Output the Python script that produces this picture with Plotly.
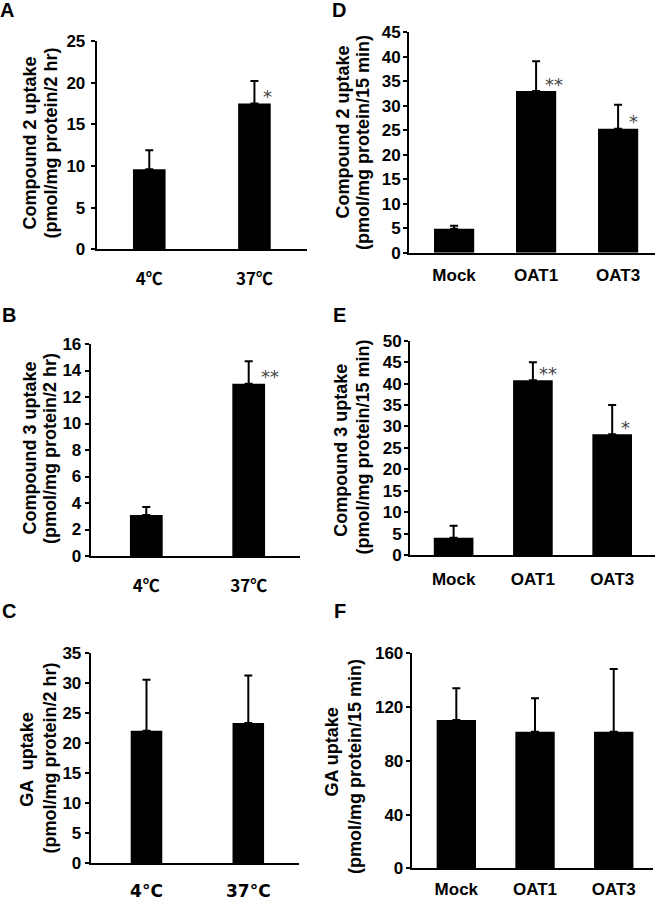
import plotly.graph_objects as go

# uptake data (mean, upper SD)
temp_labels = ["4℃", "37℃"]
temp_labels_ga = ["4°C", "37°C"]
cell_labels = ["Mock", "OAT1", "OAT3"]

cmpd2_temp = [9.6, 17.5]
cmpd2_temp_sd = [2.3, 2.7]
cmpd3_temp = [3.1, 13.0]
cmpd3_temp_sd = [0.6, 1.7]
ga_temp = [22.1, 23.4]
ga_temp_sd = [8.5, 7.9]

cmpd2_oat = [4.9, 33.0, 25.3]
cmpd2_oat_sd = [0.6, 6.1, 4.9]
cmpd3_oat = [4.0, 40.8, 28.2]
cmpd3_oat_sd = [2.8, 4.2, 6.8]
ga_oat = [110.3, 101.6, 101.6]
ga_oat_sd = [23.6, 24.9, 46.7]

stars_A = ["", "*"]
stars_B = ["", "**"]
stars_D = ["", "**", "*"]
stars_E = ["", "**", "*"]

W, H = 659, 900


def px_x(p):
    return p / W


def px_y(p):
    return 1 - p / H


# one dict per panel, positions in pixels of the 659x900 picture
panels = [
    dict(letter="A", cats=temp_labels, vals=cmpd2_temp, sd=cmpd2_temp_sd, stars=stars_A,
         xd=(96.7, 307), yd=(41, 249.3), ymax=25, dtick=5, xr=(-0.5, 1.5), bw=0.31,
         t1="Compound 2 uptake", t2="(pmol/mg protein/2 hr)", tpos=((29, 143.5), (50, 143.5)),
         lpos=(7, 10), xfont="Noto Sans CJK KR", stand=13, ystand=2, sx=[0, 13]),
    dict(letter="D", cats=cell_labels, vals=cmpd2_oat, sd=cmpd2_oat_sd, stars=stars_D,
         xd=(409, 655), yd=(32.3, 252.7), ymax=45, dtick=5, xr=(-0.55, 2.45), bw=0.49,
         t1="Compound 2 uptake", t2="(pmol/mg protein/15 min)", tpos=((342.5, 132), (363, 143)),
         lpos=(339, 10), xfont="Liberation Sans", stand=6, ystand=-1, sx=[0, 18, 15]),
    dict(letter="B", cats=temp_labels, vals=cmpd3_temp, sd=cmpd3_temp_sd, stars=stars_B,
         xd=(90.7, 300), yd=(344, 556), ymax=16, dtick=2, xr=(-0.543, 1.501), bw=0.32,
         t1="Compound 3 uptake", t2="(pmol/mg protein/2 hr)", tpos=((29.5, 448), (50, 449)),
         lpos=(9, 315), xfont="Noto Sans CJK KR", stand=14, ystand=0, sx=[0, 21]),
    dict(letter="E", cats=cell_labels, vals=cmpd3_oat, sd=cmpd3_oat_sd, stars=stars_E,
         xd=(410, 655), yd=(340.7, 555), ymax=50, dtick=5, xr=(-0.55, 2.54), bw=0.5,
         t1="Compound 3 uptake", t2="(pmol/mg protein/15 min)", tpos=((340.7, 450), (362.5, 447)),
         lpos=(339, 315), xfont="Liberation Sans", stand=8, ystand=-1, sx=[0, 15, 13]),
    dict(letter="C", cats=temp_labels_ga, vals=ga_temp, sd=ga_temp_sd, stars=None,
         xd=(90.7, 299), yd=(653.3, 863.3), ymax=35, dtick=5, xr=(-0.548, 1.498), bw=0.31,
         t1="GA  uptake", t2="(pmol/mg protein/2 hr)", tpos=((26.7, 760), (49.5, 758)),
         lpos=(9, 611), xfont="DejaVu Sans", stand=11, ystand=0, sx=None),
    dict(letter="F", cats=cell_labels, vals=ga_oat, sd=ga_oat_sd, stars=None,
         xd=(411.7, 653), yd=(653.3, 868.3), ymax=160, dtick=40, xr=(-0.567, 2.499), bw=0.5,
         t1="GA uptake", t2="(pmol/mg protein/15 min)", tpos=((331.5, 752), (355, 767)),
         lpos=(340, 611), xfont="Liberation Sans", stand=4, ystand=-1, sx=None),
]

fig = go.Figure()
annotations = []
layout = {}

for i, p in enumerate(panels):
    n = "" if i == 0 else str(i + 1)
    xa, ya = "x" + n, "y" + n
    fig.add_trace(go.Bar(
        x=p["cats"], y=p["vals"], width=p["bw"],
        marker=dict(color="black", line=dict(width=0)),
        error_y=dict(type="data", array=p["sd"], arrayminus=[0] * len(p["sd"]),
                     symmetric=False, color="black", thickness=2, width=4),
        xaxis=xa, yaxis=ya, showlegend=False,
    ))
    layout["xaxis" + n] = dict(
        domain=[px_x(p["xd"][0]), px_x(p["xd"][1])], anchor=ya, type="category",
        range=list(p["xr"]), showline=True, linecolor="black", linewidth=2,
        ticks="", showgrid=False, zeroline=False, automargin=False,
        ticklabelstandoff=p["stand"],
        tickfont=dict(family=p["xfont"], size=17, color="black", weight="bold"),
    )
    layout["yaxis" + n] = dict(
        domain=[px_y(p["yd"][1]), px_y(p["yd"][0])], anchor=xa,
        range=[0, p["ymax"]], dtick=p["dtick"], tick0=0, showline=True, linecolor="black",
        linewidth=2, ticks="outside", ticklen=4, tickwidth=1.5, tickcolor="black",
        showgrid=False, zeroline=False, automargin=False, ticklabelstandoff=p["ystand"],
        tickfont=dict(family="Liberation Sans", size=17, color="black", weight="bold"),
    )
    # y-axis title, two lines
    for txt, (cx, cy) in zip((p["t1"], p["t2"]), p["tpos"]):
        annotations.append(dict(
            text=txt, x=px_x(cx), y=px_y(cy), xref="paper", yref="paper",
            xanchor="center", yanchor="middle", textangle=-90, showarrow=False,
            font=dict(family="Liberation Sans", size=18, color="black", weight="bold"),
        ))
    # panel letter
    annotations.append(dict(
        text=p["letter"], x=px_x(p["lpos"][0]), y=px_y(p["lpos"][1]), xref="paper", yref="paper",
        xanchor="center", yanchor="middle", showarrow=False,
        font=dict(family="Liberation Sans", size=20, color="black", weight="bold"),
    ))
    # significance marks
    if p["stars"]:
        for k, s in enumerate(p["stars"]):
            if not s:
                continue
            annotations.append(dict(
                text=s, x=k, y=p["vals"][k], xref=xa, yref=ya, xshift=p["sx"][k], yshift=7,
                xanchor="center", yanchor="middle", showarrow=False,
                font=dict(family="DejaVu Sans", size=18, color="#444444"),
            ))

fig.update_layout(
    width=W, height=H, margin=dict(l=0, r=0, t=0, b=0, autoexpand=False),
    paper_bgcolor="white", plot_bgcolor="white",
    annotations=annotations, **layout,
)

# drop the default 8px page margin so the figure sits at the window's corner
fig.write_html("out.html", config={"displayModeBar": False},
               post_script="document.body.style.margin='0';")
